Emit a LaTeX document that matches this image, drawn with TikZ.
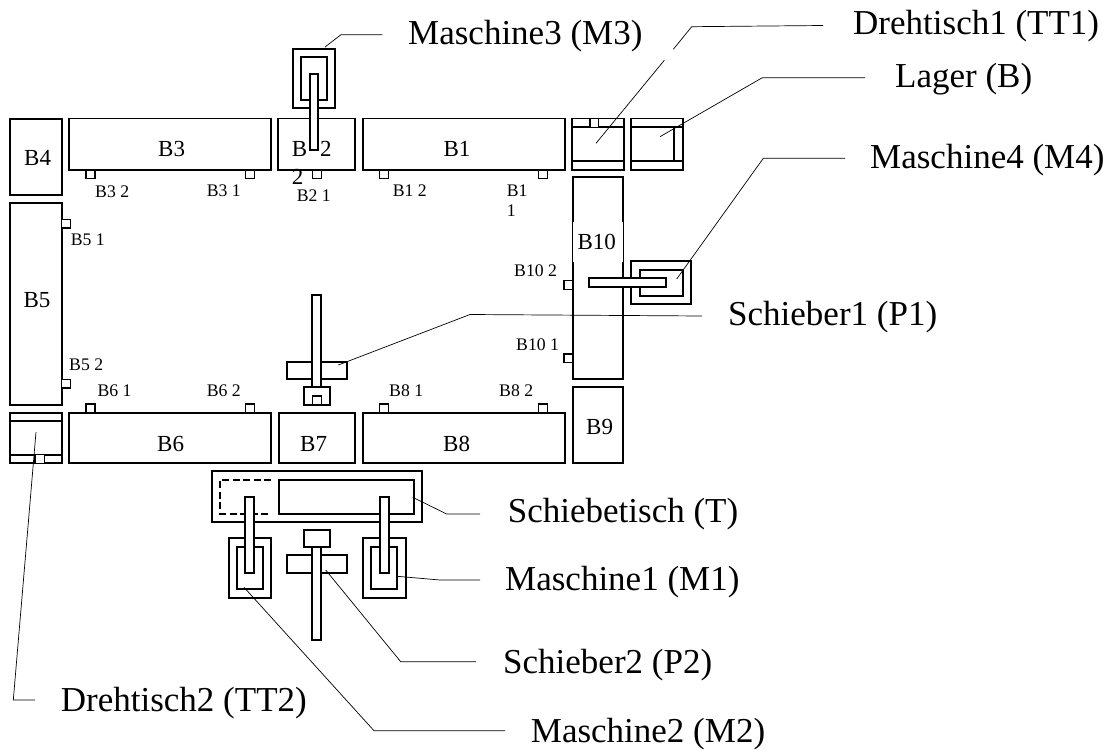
\documentclass[tikz,border=0pt]{standalone}
\usepackage{fontspec}
\setmainfont{Liberation Serif}
\usetikzlibrary{arrows.meta,positioning,fit}

\begin{document}
\begin{tikzpicture}[
  x=1pt, y=-1pt,
  box/.style={draw, line width=1.7pt, fill=white},
  sensor/.style={draw, line width=1.3pt, fill=white},
  dashline/.style={draw, line width=1.6pt, dash pattern=on 7pt off 3.5pt},
  lead/.style={draw, line width=0.7pt},
  txtbig/.style={inner sep=0pt, anchor=base west, font=\fontsize{35}{38}\selectfont},
  txtmid/.style={inner sep=0pt, anchor=base west, font=\fontsize{23}{25}\selectfont},
  txtsmall/.style={inner sep=0pt, anchor=base west, font=\fontsize{17.7}{19}\selectfont}]
\useasboundingbox (0,0) rectangle (1110,749);
% belts, top row
\draw[box] (10,119) rectangle (61.7,195);
\draw[box] (69,118.5) rectangle (271.3,170);
\draw[box] (278.3,118.5) rectangle (355,170);
\draw[box] (362.7,118.5) rectangle (565,170);
% belts, sides
\draw[box] (10,203) rectangle (61.7,404.7);
\draw[box] (572.7,177.3) rectangle (623.3,379.3);
\draw[box] (572.7,387.3) rectangle (623.3,463.3);
% belts, bottom row
\draw[box] (69,412.7) rectangle (271.3,463.3);
\draw[box] (278.7,412.7) rectangle (355,463.3);
\draw[box] (363,412.7) rectangle (565,463.3);
% turntables and store
\draw[box] (572.3,118.5) rectangle (624,170);
\draw[box] (572.3,127.3) -- (624,127.3) (572.3,160.7) -- (624,160.7);
\draw[sensor] (590,118.5) rectangle (598.3,127.3);
\draw[box] (631.3,118.5) rectangle (682.7,170);
\draw[box] (631.3,127.3) -- (682.7,127.3) (631.3,160.7) -- (682.7,160.7);
\draw[box] (673.7,127.3) -- (673.7,160.7);
\draw[box] (10,412.7) rectangle (61.7,463.3);
\draw[box] (10,421) -- (61.7,421) (10,454.7) -- (61.7,454.7);
\draw[sensor] (35,454.7) rectangle (44.7,463.3);
% sensors
\foreach \sx in {86,245.3,312.3,379.5,538.7}
  \draw[sensor] (\sx,170) rectangle ++(9,8.5);
\foreach \sx in {86,245.3,379.7,538.7}
  \draw[sensor] (\sx,404) rectangle ++(9,8.7);
\foreach \sy in {219.3,379.3}
  \draw[sensor] (61.7,\sy) rectangle ++(8.7,8.7);
\foreach \sy in {280.7,354}
  \draw[sensor] (564,\sy) rectangle ++(8.7,8.7);
% belt names
\node[txtmid] (b1) at (443.3,156.7) {B1};
\node[txtmid] (b2) at (291.7,156.7) {B};
\node[txtmid] (b2a) at (320,156.7) {2};
\node[txtmid] (b2b) at (291.7,184.3) {2};
\node[txtmid] (b3) at (158,156.7) {B3};
\node[txtmid] (b4) at (24,165.7) {B4};
\node[txtmid] (b5) at (23.3,307.3) {B5};
\node[txtmid] (b6) at (157,451) {B6};
\node[txtmid] (b7) at (300,451) {B7};
\node[txtmid] (b8) at (443,451) {B8};
\node[txtmid] (b9) at (586,434) {B9};
\fill[white] (572.7,221.7) rectangle (623.3,261.7);
\node[txtmid] (b10) at (577.3,249) {B10};
% sensor names
\node[txtsmall] (s31) at (206.7,196.7) {B3 1};
\node[txtsmall] (s32) at (95,197.3) {B3 2};
\node[txtsmall] (s21) at (296.7,201.7) {B2 1};
\node[txtsmall] (s12) at (392.7,196.7) {B1 2};
\node[txtsmall] (s11) at (506.7,196.7) {B1};
\node[txtsmall] (s11b) at (506.7,216) {1};
\node[txtsmall] (s51) at (70.7,245) {B5 1};
\node[txtsmall] (s52) at (69,370) {B5 2};
\node[txtsmall] (s61) at (97.3,396.7) {B6 1};
\node[txtsmall] (s62) at (206.7,396.7) {B6 2};
\node[txtsmall] (s81) at (389,396.7) {B8 1};
\node[txtsmall] (s82) at (499,396.7) {B8 2};
\node[txtsmall] (s102) at (514,276.7) {B10 2};
\node[txtsmall] (s101) at (516,350.7) {B10 1};
% machine 3
\draw[box] (292.7,48.7) rectangle (335.3,108);
\draw[box] (301,57) rectangle (327.3,99.7);
\draw[box] (309.7,73.7) rectangle (318.3,149.7);
% machine 4
\draw[box] (631.3,261) rectangle (691,304.3);
\draw[box] (639.7,269.7) rectangle (682.7,295.7);
\draw[box] (589.3,278.3) rectangle (665.7,287.3);
% pusher 1
\draw[box] (287,361.7) rectangle (346.7,379.3);
\draw[box] (312.3,294.7) rectangle (321.3,387.3);
\draw[box] (304,387.3) rectangle (330,405);
\draw[sensor] (312.3,396) rectangle (321.3,405);
% sliding table
\draw[box] (211.7,471.3) rectangle (422.3,522);
\draw[box] (279,480) rectangle (414,513.7);
\draw[dashline] (271.3,480) -- (220,480) -- (220,513.7) -- (271.3,513.7);
% machines 2 and 1
\draw[box] (228.7,538.3) rectangle (271.3,598);
\draw[box] (236.7,546.7) rectangle (263,589.3);
\draw[box] (245.3,496.7) rectangle (254.3,572.7);
\draw[box] (363,538.3) rectangle (405.7,598);
\draw[box] (371,546.7) rectangle (397,589.3);
\draw[box] (379.7,496.7) rectangle (388.7,572.7);
% pusher 2
\draw[box] (287,555.3) rectangle (346.7,572.7);
\draw[box] (312.3,547.3) rectangle (321.3,640);
\draw[box] (304,530) rectangle (330,547.3);
% part names
\node[txtbig] (m3txt) at (408,45) {Maschine3 (M3)};
\node[txtbig] (tt1txt) at (853,35) {Drehtisch1 (TT1)};
\node[txtbig] (btxt) at (895,88) {Lager (B)};
\node[txtbig] (m4txt) at (870,168) {Maschine4 (M4)};
\node[txtbig] (p1txt) at (728,325) {Schieber1 (P1)};
\node[txtbig] (ttxt) at (507.7,522.7) {Schiebetisch (T)};
\node[txtbig] (m1txt) at (505,590.7) {Maschine1 (M1)};
\node[txtbig] (p2txt) at (503,673.3) {Schieber2 (P2)};
\node[txtbig] (tt2txt) at (60.7,711) {Drehtisch2 (TT2)};
\node[txtbig] (m2txt) at (530.7,742.7) {Maschine2 (M2)};
% leaders
\coordinate (m3a) at (325,47);
\coordinate (m3k) at (341,34.7);
\coordinate (m3e) at (382.3,34.7);
\coordinate (tt1a) at (596,143.3);
\coordinate (tt1b) at (664.3,60.3);
\coordinate (tt1c) at (673.3,49.3);
\coordinate (tt1k) at (691.7,26.7);
\coordinate (tt1e) at (823,25.5);
\coordinate (ba) at (660,136.7);
\coordinate (bk) at (762.3,77.7);
\coordinate (be) at (865,77.7);
\coordinate (m4a) at (676.7,279);
\coordinate (m4k) at (763.3,158.3);
\coordinate (m4e) at (845,158.3);
\coordinate (p1a) at (338.3,365);
\coordinate (p1k) at (470,314.5);
\coordinate (p1e) at (702,316);
\coordinate (ta) at (412.7,497.3);
\coordinate (tk) at (446.7,514);
\coordinate (te) at (480,514);
\coordinate (m1a) at (397.3,576.3);
\coordinate (m1k) at (440,580);
\coordinate (m1e) at (480,580);
\coordinate (p2a) at (325.7,570);
\coordinate (p2k) at (400.7,661.7);
\coordinate (p2e) at (476,661.7);
\coordinate (tt2a) at (36,432);
\coordinate (tt2k) at (13.3,700);
\coordinate (tt2e) at (35,700);
\coordinate (m2a) at (244,587.3);
\coordinate (m2k) at (374,730.7);
\coordinate (m2e) at (505,730.7);
\draw[lead] (m3a) -- (m3k) -- (m3e);
\draw[lead] (tt1a) -- (tt1b);
\draw[lead] (tt1c) -- (tt1k) -- (tt1e);
\draw[lead] (ba) -- (bk) -- (be);
\draw[lead] (m4a) -- (m4k) -- (m4e);
\draw[lead] (p1a) -- (p1k) -- (p1e);
\draw[lead] (ta) -- (tk) -- (te);
\draw[lead] (m1a) -- (m1k) -- (m1e);
\draw[lead] (p2a) -- (p2k) -- (p2e);
\draw[lead] (tt2a) -- (tt2k) -- (tt2e);
\draw[lead] (m2a) -- (m2k) -- (m2e);
\end{tikzpicture}
\end{document}
